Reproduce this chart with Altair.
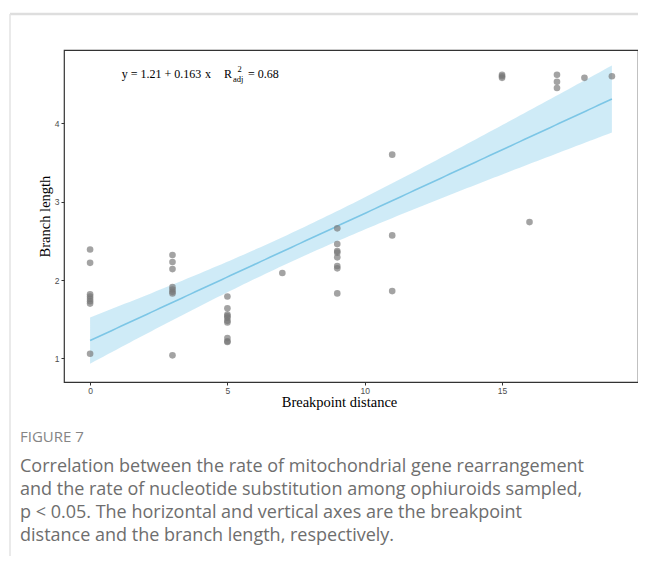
import altair as alt
import numpy as np
import pandas as pd

# ---- data (branch length at each breakpoint distance) ----
bl_at_0 = [2.39, 2.22, 1.82, 1.79, 1.76, 1.73, 1.70, 1.06]
bl_at_3 = [2.32, 2.23, 2.14, 1.91, 1.88, 1.85, 1.83, 1.04]
bl_at_5 = [1.79, 1.64, 1.56, 1.54, 1.52, 1.48, 1.46, 1.26, 1.22, 1.21]
bl_at_7 = [2.09]
bl_at_9 = [2.66, 2.46, 2.37, 2.35, 2.29, 2.18, 2.15, 1.83]
bl_at_11 = [3.60, 2.57, 1.86]
bl_at_15 = [4.62, 4.60, 4.58]
bl_at_16 = [2.74]
bl_at_17 = [4.62, 4.53, 4.45]
bl_at_18 = [4.58]
bl_at_19 = [4.60]

groups = {0: bl_at_0, 3: bl_at_3, 5: bl_at_5, 7: bl_at_7, 9: bl_at_9, 11: bl_at_11,
          15: bl_at_15, 16: bl_at_16, 17: bl_at_17, 18: bl_at_18, 19: bl_at_19}

x_ticks = [0, 5, 10, 15]
y_ticks = [1, 2, 3, 4]
x_domain = [-0.95, 19.95]
y_domain = [0.70, 4.935]

caption_head = "FIGURE 7"
caption_lines = [
    "Correlation between the rate of mitochondrial gene rearrangement",
    "and the rate of nucleotide substitution among ophiuroids sampled,",
    "p < 0.05. The horizontal and vertical axes are the breakpoint",
    "distance and the branch length, respectively.",
]

# ---- build table ----
xs, ys = [], []
for k, vals in groups.items():
    xs += [k] * len(vals)
    ys += vals
pts = pd.DataFrame({"x": xs, "y": ys})

# linear model + 95% confidence band (like geom_smooth(method = "lm"))
xa = np.array(xs, float)
ya = np.array(ys, float)
n = len(xa)
b, a = np.polyfit(xa, ya, 1)
resid = ya - (a + b * xa)
s = np.sqrt(np.sum(resid ** 2) / (n - 2))
sxx = np.sum((xa - xa.mean()) ** 2)
t_crit = 2.014  # t(0.975, df = n - 2)
grid = np.linspace(xa.min(), xa.max(), 120)
fit = a + b * grid
se = s * np.sqrt(1.0 / n + (grid - xa.mean()) ** 2 / sxx)
band = pd.DataFrame({"x": grid, "fit": fit, "lo": fit - t_crit * se, "hi": fit + t_crit * se})

xscale = alt.Scale(domain=x_domain, nice=False, zero=False)
yscale = alt.Scale(domain=y_domain, nice=False, zero=False)

xaxis = alt.Axis(values=x_ticks, format="d", title="Breakpoint distance", titleX=275,
                 titlePadding=1, labelPadding=1)
yaxis = alt.Axis(values=y_ticks, format="d", title="Branch length", titlePadding=2)

area = alt.Chart(band).mark_area(color="#87CEEB", opacity=0.4).encode(
    x=alt.X("x:Q", scale=xscale, axis=xaxis),
    y=alt.Y("lo:Q", scale=yscale, axis=yaxis),
    y2="hi:Q",
)
line = alt.Chart(band).mark_line(color="#7CC6E6", strokeWidth=1.6).encode(
    x=alt.X("x:Q", scale=xscale), y=alt.Y("fit:Q", scale=yscale)
)
points = alt.Chart(pts).mark_circle(size=44, color="#777777", opacity=0.68).encode(
    x=alt.X("x:Q", scale=xscale), y=alt.Y("y:Q", scale=yscale)
)

one = alt.Data(values=[{"k": 1}])
serif = "Liberation Serif"


def txt(text, x, y, size, font=serif, color="black", align="left", baseline="alphabetic", weight="normal"):
    return alt.Chart(one).mark_text(
        text=text, font=font, fontSize=size, color=color, align=align,
        baseline=baseline, fontWeight=weight
    ).encode(x=alt.value(x), y=alt.value(y))


annot = [
    txt("y = 1.21  + 0.163", 57.7, 28, 12),
    txt("x", 141, 28, 12),
    txt("R", 160, 28, 12),
    txt("2", 173.5, 21.5, 8.5),
    txt("adj", 169, 32, 8.5),
    txt("= 0.68", 184, 28, 12),
]

caption = [txt(caption_head, -44, 387, 15, font="Open Sans", color="#858585", baseline="middle")]
for i, line_text in enumerate(caption_lines):
    caption.append(txt(line_text, -44, 417 + 23 * i, 18, font="Open Sans", color="#6e6e6e", baseline="middle"))

frame_top = alt.Chart(one).mark_rule(color="#dedede", strokeWidth=2.5).encode(
    x=alt.value(-54), x2=alt.value(600), y=alt.value(-36)
)
frame_left = alt.Chart(one).mark_rule(color="#e3e3e3", strokeWidth=1.5).encode(
    x=alt.value(-54), y=alt.value(-36), y2=alt.value(530)
)

chart = alt.layer(area, line, points, *annot, *caption, frame_top, frame_left).properties(
    width=574,
    height=332,
    padding={"left": 56, "top": 42, "right": 0, "bottom": 174},
    autosize=alt.AutoSizeParams(type="none"),
    background="white",
).configure_view(
    stroke="#333333", strokeWidth=1.2
).configure_axis(
    grid=False,
    domain=False,
    ticks=True,
    tickSize=3,
    tickColor="#333333",
    labelFont="Liberation Sans",
    labelFontSize=8.5,
    labelColor="#4d4d4d",
    labelPadding=2,
    titleFont=serif,
    titleFontSize=14.5,
    titleFontWeight="normal",
    titleColor="black",
)

chart.save("out.html", embed_options={"renderer": "svg", "actions": False})
